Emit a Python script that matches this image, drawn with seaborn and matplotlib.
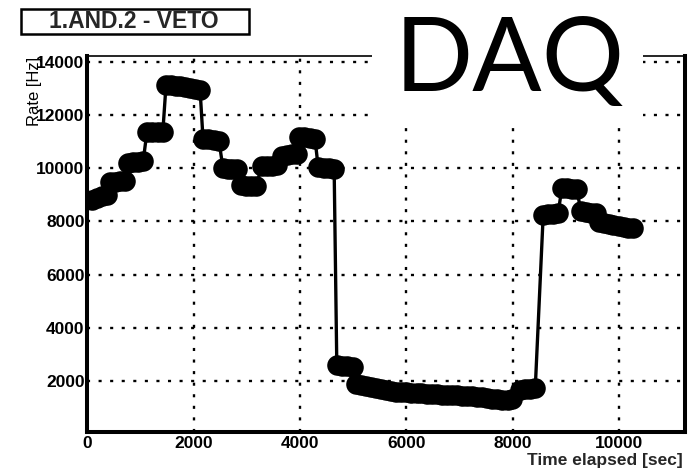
import numpy as np
import pandas as pd
import matplotlib
matplotlib.use("Agg")
import matplotlib.pyplot as plt
import seaborn as sns
from matplotlib.patches import Rectangle
from matplotlib.ticker import MultipleLocator

# rate vs elapsed time
time_sec = [
    90, 180, 280, 370,
    430, 520, 620, 710,
    765, 860, 950, 1050,
    1120, 1220, 1320, 1420,
    1480, 1570, 1660, 1750, 1840, 1930, 2030, 2120,
    2175, 2275, 2375, 2475,
    2550, 2640, 2720, 2810,
    2890, 2980, 3080, 3170,
    3280, 3370, 3470, 3565,
    3660, 3750, 3850, 3940,
    3980, 4080, 4180, 4280,
    4340, 4440, 4540, 4640,
    4690, 4790, 4890, 4990,
    5050, 5140, 5240, 5330, 5430, 5520, 5620, 5710, 5810, 5900,
    6000, 6090, 6190, 6280, 6380, 6470, 6570, 6660, 6760, 6850,
    6950, 7040, 7140, 7230, 7330, 7420, 7520, 7610, 7710, 7800,
    7900, 7990,
    8130, 8230, 8320, 8420,
    8570, 8660, 8760, 8850,
    8920, 9010, 9110, 9200,
    9280, 9370, 9470, 9560,
    9620, 9710, 9800, 9890, 9990, 10080, 10170, 10260,
]
rate_hz = [
    8800, 8880, 8950, 9000,
    9470, 9490, 9510, 9520,
    10200, 10220, 10240, 10250,
    11350, 11360, 11370, 11370,
    13130, 13120, 13100, 13080, 13050, 13000, 12970, 12940,
    11100, 11080, 11050, 11020,
    10000, 9980, 9960, 9950,
    9350, 9340, 9320, 9310,
    10060, 10080, 10090, 10100,
    10460, 10490, 10510, 10530,
    11180, 11150, 11120, 11100,
    10030, 10020, 10000, 9980,
    2590, 2570, 2550, 2540,
    1870, 1850, 1800, 1760, 1720, 1680, 1650, 1620, 1600, 1580,
    1570, 1560, 1540, 1530, 1520, 1510, 1500, 1490, 1480, 1470,
    1460, 1450, 1440, 1420, 1400, 1380, 1360, 1340, 1320, 1300,
    1300, 1310,
    1660, 1690, 1700, 1720,
    8250, 8270, 8290, 8300,
    9250, 9240, 9210, 9200,
    8370, 8350, 8330, 8310,
    7980, 7950, 7900, 7860, 7820, 7790, 7760, 7750,
]

x_ticks_major = 2000
y_ticks_major = 2000
minor_step = 500

df = pd.DataFrame({"Time elapsed [sec]": time_sec, "Rate [Hz]": rate_hz})

sns.set_theme(style="white")
plt.rcParams["font.family"] = ["Liberation Sans", "DejaVu Sans"]

W, H = 698, 474
fig = plt.figure(figsize=(W / 100, H / 100), dpi=100)
fig.patch.set_facecolor("white")

# axes frame in pixel terms
left, right, bottom, top = 87.3, 685, 432.3, 55.5
ax = fig.add_axes([left / W, 1 - bottom / H, (right - left) / W, (bottom - top) / H])
ax.set_facecolor("white")

sns.lineplot(data=df, x="Time elapsed [sec]", y="Rate [Hz]", ax=ax,
             color="black", linewidth=2.4, marker="o", markersize=14.8,
             markeredgewidth=0, estimator=None, sort=False, zorder=3)

ax.set_xlim(0, 11235)
ax.set_ylim(70, 14230)

ax.xaxis.set_major_locator(MultipleLocator(x_ticks_major))
ax.xaxis.set_minor_locator(MultipleLocator(minor_step))
ax.yaxis.set_major_locator(MultipleLocator(y_ticks_major))
ax.yaxis.set_minor_locator(MultipleLocator(minor_step))

ax.grid(True, which="major", color="black", linewidth=1.7,
        linestyle=(0, (1.3, 3.6)), zorder=1)

ax.tick_params(axis="both", which="both", direction="in", colors="black",
               labelsize=12.5, top=False, right=False)
ax.tick_params(axis="y", which="major", length=11, width=2.4, pad=2)
ax.tick_params(axis="y", which="minor", length=5, width=2.4)
ax.tick_params(axis="x", which="major", length=9, width=2.4, pad=3)
ax.tick_params(axis="x", which="minor", length=4, width=2.4)
for lab in ax.get_xticklabels() + ax.get_yticklabels():
    lab.set_fontweight("bold")

for side in ["left", "bottom", "right"]:
    ax.spines[side].set_linewidth(2.9)
    ax.spines[side].set_color("black")
ax.spines["top"].set_linewidth(1.2)
ax.spines["top"].set_color("black")

xl = ax.set_xlabel("Time elapsed [sec]", fontsize=12.5, fontweight="bold", loc="right")
ax.xaxis.set_label_coords((683 - left) / (right - left), -(453 - bottom) / (bottom - top))
# the y title sits on top of the upper tick labels, as in the original
yl = ax.set_ylabel("Rate [Hz]", fontsize=12, color="black")
yl.set(ha="center", va="top", rotation_mode="default")
ax.yaxis.set_label_coords((35 - left) / (right - left), 1 - (57 - top) / (bottom - top))

# title box
fig.patches.append(Rectangle((21 / W, 1 - 34 / H), 228 / W, 25 / H,
                             transform=fig.transFigure, fill=False,
                             edgecolor="black", linewidth=1.8, zorder=5))
fig.text(134 / W, 1 - 21.5 / H, "1.AND.2 - VETO", ha="center", va="center",
         fontsize=16.5, fontweight="bold", zorder=6)

# DAQ logo over a white patch
fig.patches.append(Rectangle((372 / W, 1 - 128 / H), 271 / W, 128 / H,
                             transform=fig.transFigure, facecolor="white",
                             edgecolor="none", zorder=8))
fig.text(510 / W, 1 - 91 / H, "DAQ", ha="center", va="baseline",
         fontsize=74, family=["Lato", "DejaVu Sans"], fontweight="normal",
         color="black", zorder=9)

fig.savefig("out.png", dpi=100, facecolor="white")
